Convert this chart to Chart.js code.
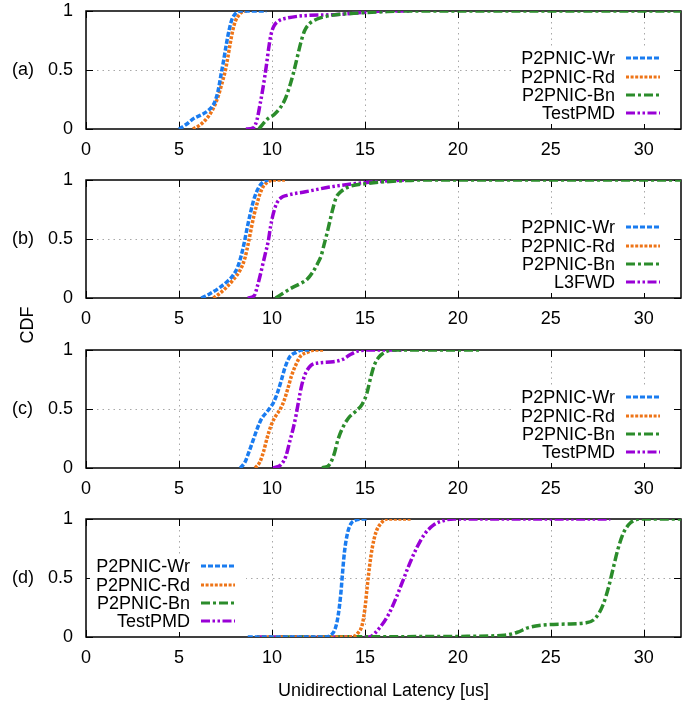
<!DOCTYPE html>
<html>
<head>
<meta charset="utf-8">
<script src="https://cdn.jsdelivr.net/npm/chart.js@4.4.0/dist/chart.umd.min.js"></script>
<style>
  body { margin: 0; background: #fff; width: 697px; height: 708px; position: relative; overflow: hidden;
         font-family: "Liberation Sans", Arial, sans-serif; }
  canvas { position: absolute; left: 0; }
  #cdf { position: absolute; left: -3px; top: 315px; width: 60px; line-height: 20px; text-align: center;
         font-size: 18px; color: #000; transform: rotate(-90deg); }
</style>
</head>
<body>
<canvas id="pa" width="697" height="169" style="top:0px"></canvas>
<canvas id="pb" width="697" height="169" style="top:169px"></canvas>
<canvas id="pc" width="697" height="169" style="top:339px"></canvas>
<canvas id="pd" width="697" height="200" style="top:508px"></canvas>
<div id="cdf">CDF</div>
<script>
// ── Data ──────────────────────────────────────────────────────────────────────
const xTicks = [0, 5, 10, 15, 20, 25, 30];
const yTicks = [0, 0.5, 1];
const xMax = 32;
const panelTags = ["(a)", "(b)", "(c)", "(d)"];
const nicNames = ["P2PNIC-Wr", "P2PNIC-Rd", "P2PNIC-Bn"];
const hostNames = ["TestPMD", "L3FWD", "TestPMD", "TestPMD"];

// panel (a)
const aWr  = [[5.0,0],[5.4,0.04],[5.8,0.09],[6.2,0.12],[6.6,0.16],[6.9,0.22],[7.1,0.32],[7.25,0.45],[7.4,0.58],[7.55,0.72],[7.7,0.84],[7.85,0.93],[8.05,0.98],[8.3,1.0],[9.7,1.0]];
const aRd  = [[5.75,0],[6.1,0.03],[6.5,0.09],[6.8,0.16],[7.05,0.25],[7.3,0.38],[7.5,0.5],[7.62,0.6],[7.75,0.72],[7.9,0.84],[8.05,0.92],[8.25,0.97],[8.5,1.0],[8.7,1.0]];
const aBn  = [[9.3,0],[9.5,0.04],[9.8,0.09],[10.1,0.12],[10.4,0.17],[10.7,0.25],[10.95,0.36],[11.15,0.47],[11.35,0.6],[11.55,0.73],[11.75,0.83],[12.0,0.89],[12.4,0.93],[13.1,0.96],[14.4,0.98],[16.2,0.995],[17.5,1.0],[32,1.0]];
const aPmd = [[8.6,0],[9.0,0.01],[9.2,0.08],[9.35,0.2],[9.5,0.33],[9.62,0.45],[9.72,0.56],[9.82,0.68],[9.95,0.8],[10.1,0.87],[10.4,0.92],[10.8,0.94],[11.7,0.96],[13.5,0.97],[15.0,0.99],[16.2,1.0],[17.4,1.0]];

// panel (b)
const bWr  = [[6.2,0],[6.6,0.03],[7.2,0.09],[7.6,0.14],[7.9,0.19],[8.15,0.26],[8.35,0.36],[8.5,0.46],[8.65,0.58],[8.8,0.69],[8.95,0.79],[9.1,0.87],[9.3,0.94],[9.5,0.98],[9.8,1.0]];
const bRd  = [[6.85,0],[7.2,0.04],[7.55,0.09],[7.95,0.16],[8.3,0.24],[8.55,0.34],[8.75,0.48],[8.9,0.6],[9.05,0.71],[9.2,0.8],[9.35,0.88],[9.55,0.95],[9.75,0.98],[10.1,1.0],[10.7,1.0]];
const bBn  = [[10.2,0],[10.6,0.04],[11.0,0.08],[11.5,0.12],[11.9,0.16],[12.2,0.22],[12.45,0.29],[12.65,0.36],[12.8,0.45],[12.95,0.54],[13.1,0.64],[13.25,0.74],[13.45,0.85],[13.7,0.9],[14.1,0.94],[15.1,0.97],[17.2,0.995],[18,1.0],[32,1.0]];
const bL3  = [[8.7,0],[9.05,0.02],[9.2,0.09],[9.35,0.18],[9.5,0.28],[9.65,0.38],[9.8,0.48],[9.92,0.6],[10.05,0.7],[10.25,0.8],[10.5,0.85],[10.8,0.87],[11.8,0.9],[13.1,0.94],[14.5,0.97],[16.0,0.99],[17.2,1.0]];

// panel (c)
const cWr  = [[8.3,0],[8.55,0.05],[8.75,0.13],[9.0,0.24],[9.2,0.33],[9.45,0.42],[9.7,0.47],[9.9,0.51],[10.1,0.56],[10.3,0.64],[10.5,0.74],[10.7,0.85],[10.95,0.94],[11.3,0.98],[11.6,1.0],[12.0,1.0]];
const cRd  = [[9.1,0],[9.35,0.05],[9.55,0.14],[9.75,0.26],[9.95,0.36],[10.2,0.44],[10.45,0.5],[10.65,0.57],[10.85,0.67],[11.05,0.78],[11.3,0.88],[11.55,0.95],[11.9,0.98],[12.3,1.0],[12.8,1.0]];
const cBn  = [[12.7,0],[13.1,0.03],[13.35,0.12],[13.55,0.24],[13.8,0.34],[14.1,0.42],[14.5,0.48],[14.85,0.54],[15.1,0.63],[15.3,0.76],[15.5,0.87],[15.75,0.94],[16.2,0.99],[16.7,1.0],[21.2,1.0]];
const cPmd = [[10.05,0],[10.5,0.03],[10.75,0.1],[10.95,0.22],[11.15,0.34],[11.3,0.45],[11.45,0.58],[11.6,0.7],[11.8,0.8],[12.1,0.87],[12.5,0.89],[13.3,0.9],[13.8,0.92],[14.2,0.96],[14.6,0.99],[15.3,1.0],[17.0,1.0]];

// panel (d)
const dWr  = [[8.7,0],[12.9,0],[13.2,0.02],[13.4,0.07],[13.55,0.17],[13.7,0.36],[13.8,0.55],[13.9,0.72],[14.05,0.87],[14.25,0.96],[14.5,0.99],[14.9,1.0],[15.1,1.0]];
const dRd  = [[9.2,0],[14.3,0],[14.6,0.03],[14.85,0.1],[15.0,0.24],[15.12,0.42],[15.25,0.6],[15.4,0.76],[15.6,0.89],[15.9,0.97],[16.2,1.0],[17.5,1.0]];
const dBn  = [[10.5,0],[20.0,0.005],[22.5,0.015],[23.2,0.04],[23.8,0.08],[24.5,0.1],[25.8,0.11],[26.9,0.12],[27.4,0.16],[27.8,0.27],[28.1,0.42],[28.35,0.58],[28.6,0.74],[28.9,0.88],[29.3,0.97],[29.9,1.0],[32,1.0]];
const dPmd = [[9.2,0],[15.2,0],[15.8,0.08],[16.3,0.2],[16.7,0.34],[17.05,0.48],[17.4,0.62],[17.8,0.76],[18.2,0.87],[18.7,0.95],[19.3,0.99],[19.8,1.0],[28.2,1.0]];

// ── Styles ────────────────────────────────────────────────────────────────────
const COLORS = ["#1a7cf0", "#ee7417", "#2b8c2b", "#9900d6"];
const DASHES = [[5, 2], [3, 1.6], [9, 3, 3, 3], [9, 2.5, 2.5, 2.5, 2.5, 2.5]];
const FONT = { family: "'Liberation Sans', Arial, sans-serif", size: 18 };
const KEY_ROWS = [47, 66, 84, 102];

// ── Panel decorations: grid, frame, inner ticks, key ─────────────────────────
const gnuFrame = {
  id: "gnuFrame",
  beforeDatasetsDraw(chart) {
    const { ctx, chartArea: a, scales: { x, y } } = chart;
    ctx.save();
    ctx.strokeStyle = "#a8a8a8";
    ctx.lineWidth = 1;
    ctx.setLineDash([1.5, 4]);
    ctx.beginPath();
    xTicks.forEach(v => {
      if (v <= 0 || v >= xMax) return;
      const px = Math.round(x.getPixelForValue(v)) + 0.5;
      ctx.moveTo(px, a.top); ctx.lineTo(px, a.bottom);
    });
    yTicks.forEach(v => {
      if (v <= 0 || v >= 1) return;
      const py = Math.round(y.getPixelForValue(v)) + 0.5;
      ctx.moveTo(a.left, py); ctx.lineTo(a.right, py);
    });
    ctx.stroke();
    ctx.setLineDash([]);
    ctx.strokeStyle = "#000";
    ctx.beginPath();
    xTicks.forEach(v => {
      const px = Math.round(x.getPixelForValue(v)) + 0.5;
      ctx.moveTo(px, a.bottom); ctx.lineTo(px, a.bottom - 7);
      ctx.moveTo(px, a.top); ctx.lineTo(px, a.top + 7);
    });
    yTicks.forEach(v => {
      const py = Math.round(y.getPixelForValue(v)) + 0.5;
      ctx.moveTo(a.left, py); ctx.lineTo(a.left + 7, py);
      ctx.moveTo(a.right, py); ctx.lineTo(a.right - 7, py);
    });
    ctx.stroke();
    ctx.lineWidth = 1.5;
    ctx.strokeRect(a.left, a.top, a.right - a.left, a.bottom - a.top);
    ctx.restore();
  },
  afterDatasetsDraw(chart, args, opts) {
    const { ctx, chartArea: a, scales: { y } } = chart;
    ctx.save();
    ctx.font = `${FONT.size}px ${FONT.family}`;
    ctx.fillStyle = "#000";
    ctx.textBaseline = "middle";
    ctx.textAlign = "left";
    ctx.fillText(opts.tag, 12, y.getPixelForValue(0.5));

    // key
    const sets = chart.data.datasets;
    const tx = opts.keyX;
    const maxW = Math.max(...sets.map(d => ctx.measureText(d.label).width));
    ctx.fillStyle = "#fff";
    ctx.fillRect(tx - maxW - 6, a.top + KEY_ROWS[0] - 11, maxW + 62, KEY_ROWS[3] - KEY_ROWS[0] + 22);
    ctx.textAlign = "right";
    sets.forEach((d, i) => {
      const ry = a.top + KEY_ROWS[i];
      ctx.fillStyle = "#000";
      ctx.fillText(d.label, tx, ry + 1);
      ctx.strokeStyle = d.borderColor;
      ctx.lineWidth = 3;
      ctx.setLineDash(d.borderDash);
      ctx.beginPath();
      ctx.moveTo(tx + 11, ry); ctx.lineTo(tx + 45, ry);
      ctx.stroke();
    });
    ctx.restore();
  },
};

function noOverflow(s) {
  s.paddingTop = 0; s.paddingBottom = 0; s.paddingLeft = 0; s.paddingRight = 0;
}

function makePanel(id, idx, series, keyX, last) {
  const names = nicNames.concat([hostNames[idx]]);
  const datasets = series.map((pts, i) => ({
    label: names[i],
    data: pts.map(([x, y]) => ({ x, y })),
    borderColor: COLORS[i],
    borderDash: DASHES[i],
    borderWidth: 3.5,
    pointRadius: 0,
    fill: false,
    cubicInterpolationMode: "monotone",
  }));

  return new Chart(document.getElementById(id), {
    type: "line",
    data: { datasets },
    plugins: [gnuFrame],
    options: {
      responsive: false,
      animation: false,
      devicePixelRatio: 1,
      layout: { padding: { top: 11, right: 16, left: 0, bottom: 0 } },
      plugins: {
        legend: { display: false },
        tooltip: { enabled: false },
        gnuFrame: { tag: panelTags[idx], keyX },
      },
      scales: {
        x: {
          type: "linear", min: 0, max: xMax,
          afterBuildTicks: s => { s.ticks = xTicks.map(v => ({ value: v })); },
          afterFit: s => { s.height = last ? 71 : 40; noOverflow(s); },
          ticks: { font: FONT, color: "#000", padding: 10, maxRotation: 0, autoSkip: false,
                   callback: v => String(v) },
          grid: { display: false, drawTicks: false },
          border: { display: false },
          title: last
            ? { display: true, text: "Unidirectional Latency [us]", font: FONT, color: "#000",
                padding: { top: 0, bottom: 6 } }
            : { display: false },
        },
        y: {
          type: "linear", min: 0, max: 1,
          afterBuildTicks: s => { s.ticks = yTicks.map(v => ({ value: v })); },
          afterFit: s => { s.width = 86; noOverflow(s); },
          ticks: { font: FONT, color: "#000", padding: 13, callback: v => String(v) },
          grid: { display: false, drawTicks: false },
          border: { display: false },
        },
      },
    },
  });
}

makePanel("pa", 0, [aWr, aRd, aBn, aPmd], 615, false);
makePanel("pb", 1, [bWr, bRd, bBn, bL3], 615, false);
makePanel("pc", 2, [cWr, cRd, cBn, cPmd], 615, false);
makePanel("pd", 3, [dWr, dRd, dBn, dPmd], 190, true);
</script>
</body>
</html>
